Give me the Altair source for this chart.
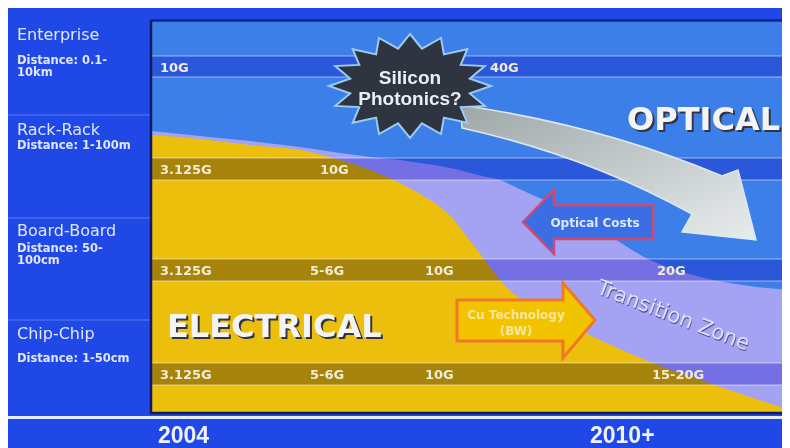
import altair as alt
import pandas as pd
import numpy as np

# ------------------------------------------------------------------ data
row_names = ["Enterprise", "Rack-Rack", "Board-Board", "Chip-Chip"]
row_distance = ["Distance: 0.1-\n10km", "Distance: 1-100m", "Distance: 50-\n100cm", "Distance: 1-50cm"]

speed_labels = [["10G", "40G"],
                ["3.125G", "10G"],
                ["3.125G", "5-6G", "10G", "20G"],
                ["3.125G", "5-6G", "10G", "15-20G"]]

year_labels = ["2004", "2010+"]

# region boundaries (x along the timeline, y down the distance classes)
boundary_x = [152, 200, 250, 300, 340, 370, 400, 420, 440, 455, 467, 478, 487, 500, 513, 535, 560, 600, 650, 700, 750, 790]
electrical_top = [135, 139, 145, 150, 160, 170, 183, 194, 207, 221, 237, 251, 263, 280, 293, 308, 320, 340, 362, 380, 397, 410]
transition_top = [131, 136, 141, 147, 153, 157, 160, 163, 166, 169, 172, 175, 177, 180, 186, 196, 208, 230, 260, 277, 286, 290]

# ------------------------------------------------------------------ layout
row_name_y = [40, 135, 236, 339]
row_dist_y = [64, 149, 252, 362]
separator_y = [115, 218, 320]
band_top = [56, 158, 259, 363]
band_bottom = [77, 180, 281, 385]
speed_label_x = [[160, 490], [160, 320], [160, 310, 425, 657], [160, 310, 425, 652]]
year_x = [158, 590]

X = alt.Scale(domain=[8, 782], nice=False, zero=False)
Y = alt.Scale(domain=[8, 448], reverse=True, nice=False, zero=False)

PANEL = "#1f48e6"
PLOT = "#3d7fe9"
YELLOW = "#ecbf0c"
LAV = "#aaa4f2"
RIGHT = 782


def xq(f="x"):
    return alt.X(f"{f}:Q", scale=X, axis=None)


def yq(f="y"):
    return alt.Y(f"{f}:Q", scale=Y, axis=None)


def rects(df, **mk):
    return alt.Chart(df).mark_rect(**mk).encode(
        x=xq("x"), x2="x2:Q", y=yq("y"), y2="y2:Q")


def rules(df, **mk):
    return alt.Chart(df).mark_rule(**mk).encode(
        x=xq("x"), x2="x2:Q", y=yq("y"), y2="y2:Q")


def texts(df, **mk):
    return alt.Chart(df).mark_text(**mk).encode(x=xq(), y=yq(), text="t:N")


layers = []

# plot area
layers.append(rects(pd.DataFrame({"x": [152], "x2": [RIGHT], "y": [21], "y2": [413]}), color=PLOT))

# transition zone and electrical region
reg = pd.DataFrame({"x": boundary_x, "elec": electrical_top, "trans": transition_top,
                    "bottom": [413] * len(boundary_x)})
layers.append(alt.Chart(reg).mark_area(color=LAV, opacity=0.95, interpolate="monotone").encode(
    x=xq(), y=yq("trans"), y2="bottom:Q"))
layers.append(alt.Chart(reg).mark_area(color=YELLOW, interpolate="monotone").encode(
    x=xq(), y=yq("elec"), y2="bottom:Q"))

# speed bands
bands = pd.DataFrame({"x": [152] * 4, "x2": [RIGHT] * 4, "y": band_top, "y2": band_bottom})
layers.append(rects(bands, color="#b4b0f0", blend="multiply"))
edges = pd.DataFrame({"x": [152] * 8, "x2": [RIGHT] * 8,
                      "y": band_top + band_bottom, "y2": band_top + band_bottom})
layers.append(rules(edges, color="#ffffff", opacity=0.35, strokeWidth=1.5))

# big grey arrow (Silicon Photonics trend)
grey_arrow = ("M-140,-65 Q0,-45 122,6 L138,0 L156,70 L82,62 L92,44 "
              "Q-15,-15 -138,-42 Z")
layers.append(alt.Chart(pd.DataFrame({"x": [600], "y": [170]})).mark_point(
    shape=grey_arrow, size=4, filled=True, opacity=1,
    fill={"gradient": "linear", "x1": 0, "y1": 0, "x2": 1, "y2": 1,
          "stops": [{"offset": 0, "color": "#9ea7a8"}, {"offset": 1, "color": "#e8ecec"}]},
    stroke="#dbe8f0", strokeWidth=1.5).encode(x=xq(), y=yq()))


# star
def star_path(n, rxo, ryo, rxi, ryi):
    pts = []
    for k in range(2 * n):
        a = -np.pi / 2 + k * np.pi / n
        rx, ry = (rxo, ryo) if k % 2 == 0 else (rxi, ryi)
        pts.append(f"{rx * np.cos(a):.1f},{ry * np.sin(a):.1f}")
    return "M" + " L".join(pts) + " Z"


layers.append(alt.Chart(pd.DataFrame({"x": [410], "y": [86]})).mark_point(
    shape=star_path(16, 81, 52, 61, 38), size=4, filled=True, opacity=1,
    fill="#2e3440", stroke="#9ccaf0", strokeWidth=2).encode(x=xq(), y=yq()))

# Optical costs arrow (pointing left)
optical_arrow = "M-65,0 L-34,-32 L-34,-17 L65,-17 L65,17 L-34,17 L-34,32 Z"
layers.append(alt.Chart(pd.DataFrame({"x": [588], "y": [222]})).mark_point(
    shape=optical_arrow, size=4, filled=True, opacity=1,
    fill="#3b6ee4", stroke="#d04a70", strokeWidth=2.5).encode(x=xq(), y=yq()))

# Cu technology arrow (pointing right)
cu_arrow = "M-63,-20 L43,-20 L43,-37 L75,0 L43,38 L43,21 L-63,21 Z"
layers.append(alt.Chart(pd.DataFrame({"x": [520], "y": [320]})).mark_point(
    shape=cu_arrow, size=4, filled=True, opacity=1,
    fill="#f2c400", stroke="#f07828", strokeWidth=3).encode(x=xq(), y=yq()))

# left panel separators, frame lines
layers.append(rules(pd.DataFrame({"x": [8] * 3, "x2": [150] * 3, "y": separator_y, "y2": separator_y}),
                    color="#5a7cf2", strokeWidth=1))
layers.append(rules(pd.DataFrame({"x": [151], "x2": [RIGHT], "y": [20.5], "y2": [20.5]}),
                    color="#0c2490", strokeWidth=2.5))
layers.append(rules(pd.DataFrame({"x": [151], "x2": [151], "y": [20], "y2": [414]}),
                    color="#101c60", strokeWidth=2.5))
layers.append(rules(pd.DataFrame({"x": [150], "x2": [RIGHT], "y": [413], "y2": [413]}),
                    color="#101c60", strokeWidth=2.5))
layers.append(rules(pd.DataFrame({"x": [8], "x2": [RIGHT], "y": [417.5], "y2": [417.5]}),
                    color="#e6ecff", strokeWidth=3))

# ---------------------------------------------------------------- texts
layers.append(texts(pd.DataFrame({"x": [17] * 4, "y": row_name_y, "t": row_names}),
                    align="left", baseline="alphabetic", font="DejaVu Sans", fontSize=16,
                    color="#dfe7ff"))
layers.append(texts(pd.DataFrame({"x": [17] * 4, "y": row_dist_y, "t": row_distance}),
                    align="left", baseline="alphabetic", font="DejaVu Sans", fontSize=11.5,
                    fontWeight="bold", lineBreak="\n", lineHeight=12, color="#dfe7ff"))

sp_rows = []
for labels, xs, t, b in zip(speed_labels, speed_label_x, band_top, band_bottom):
    for lab, xv in zip(labels, xs):
        sp_rows.append({"x": xv, "y": (t + b) / 2 + 1, "t": lab})
layers.append(texts(pd.DataFrame(sp_rows), align="left", baseline="middle",
                    font="DejaVu Sans", fontSize=13, fontWeight="bold", color="#f2ecd6"))

big = pd.DataFrame({"x": [627, 167], "y": [130, 337], "t": ["OPTICAL", "ELECTRICAL"]})
layers.append(texts(big, align="left", baseline="alphabetic", font="DejaVu Sans", fontSize=32,
                    fontWeight="bold", color="#333344", dx=2, dy=2))
layers.append(texts(big, align="left", baseline="alphabetic", font="DejaVu Sans", fontSize=32,
                    fontWeight="bold", color="#f4f4f4"))

layers.append(texts(pd.DataFrame({"x": [410, 410], "y": [84, 105], "t": ["Silicon", "Photonics?"]}),
                    align="center", baseline="alphabetic", font="Liberation Sans", fontSize=19,
                    fontWeight="bold", color="#e8eef2"))

layers.append(texts(pd.DataFrame({"x": [595], "y": [223], "t": ["Optical Costs"]}),
                    align="center", baseline="middle", font="DejaVu Sans", fontSize=12,
                    fontWeight="bold", color="#dde8ff"))
layers.append(texts(pd.DataFrame({"x": [516, 516], "y": [315, 331], "t": ["Cu Technology", "(BW)"]}),
                    align="center", baseline="middle", font="DejaVu Sans", fontSize=12,
                    fontWeight="bold", color="#f8e6a0"))

tz = pd.DataFrame({"x": [673], "y": [316], "t": ["Transition Zone"]})
layers.append(texts(tz, align="center", baseline="middle", font="DejaVu Sans", fontSize=21,
                    angle=21, color="#50508a", dx=1, dy=1))
layers.append(texts(tz, align="center", baseline="middle", font="DejaVu Sans", fontSize=21,
                    angle=21, color="#e2defa"))

layers.append(texts(pd.DataFrame({"x": year_x, "y": [443, 443], "t": year_labels}),
                    align="left", baseline="alphabetic", font="Liberation Sans", fontSize=23,
                    fontWeight="bold", color="#eef2ff"))

chart = alt.layer(*layers).properties(
    width=774, height=440, background=PANEL, padding=0,
    autosize=alt.AutoSizeParams(type="none"),
).configure_view(stroke=None)

chart.save("out.html", embed_options={"renderer": "svg", "actions": False})
